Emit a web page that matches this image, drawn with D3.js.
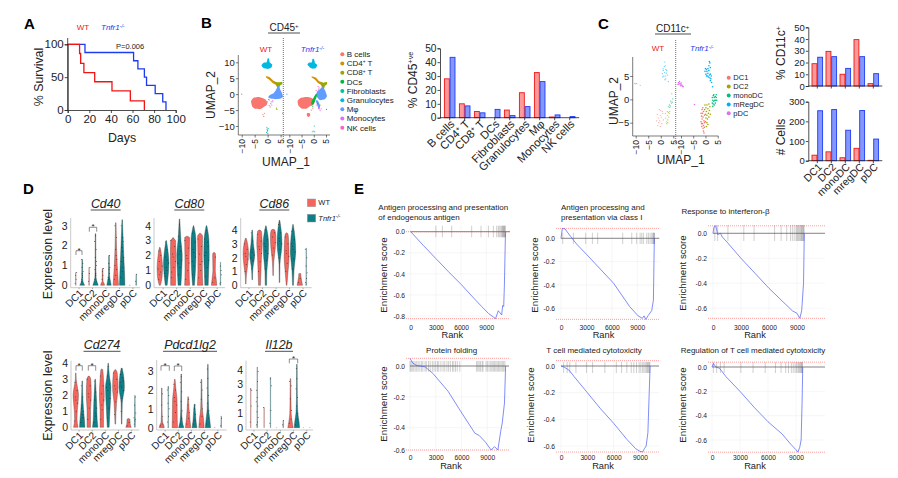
<!DOCTYPE html>
<html>
<head>
<meta charset="utf-8">
<script src="https://cdn.jsdelivr.net/npm/d3@7"></script>
<style>
  html, body { margin: 0; background: #fff; }
  text { font-family: "Liberation Sans", Arial, sans-serif; fill: #222; }
</style>
</head>
<body>
<div id="chart"></div>
<script>
// Panel A survival
const wtDays = [0, 11, 12, 15, 25, 41, 58, 71];
const wtSurvival = [100, 86, 71, 57, 43, 29, 14, 0];
const koDays = [0, 16, 61, 65, 71, 73, 81, 88, 91];
const koSurvival = [100, 87.5, 75, 62.5, 50, 37.5, 25, 12.5, 0];

// Panel B
const cd45Types = ["B cells", "CD4+ T", "CD8+ T", "DCs", "Fibroblasts", "Granulocytes", "Mφ", "Monocytes", "NK cells"];
const cd45Colors = ["#F8766D", "#D39200", "#93AA00", "#00BA38", "#00C19F", "#00B9E3", "#619CFF", "#DB72FB", "#FF61C3"];
const cd45Wt = [28, 10, 4.5, 0, 5.5, 18, 32.5, 0.5, 0];
const cd45Ko = [43.5, 8.5, 3.5, 6, 1.5, 8, 26, 2, 0.8];
// cluster outlines, [type index, outline in UMAP coordinates]
const umapWtBlobs = [
    [0, [[-6.4, -2.2], [-5.5, -1.2], [-3.5, -0.9], [-2, -1.2], [-0.8, -1.7], [-0.1, -2.6], [-0.5, -3.6], [-1.5, -4], [-2.8, -4.7], [-4.8, -4.6], [-6, -3.8]]],
    [1, [[-0.6, 5.6], [0.8, 5.3], [2, 4.4], [3.5, 3.6], [4.2, 2.6], [4.6, 1.5], [4, 1.7], [3, 3], [1.8, 3.6], [0.5, 4.6], [-0.6, 5.2]]],
    [2, [[2.6, 3.9], [4, 3.7], [5.6, 3.8], [5.6, 3.1], [4.8, 2.7], [4.4, 1.8], [3.8, 2.4], [3.2, 3.2]]],
    [5, [[-2.4, 9], [-1.6, 8.2], [0, 7.9], [1.4, 8.3], [1.8, 9.2], [0.8, 10], [0.5, 11.2], [0, 11.2], [-0.4, 10], [-1.4, 9.9]]],
    [6, [[4.2, 2.6], [4.8, 1.5], [5.5, 0.4], [5.9, -0.7], [5, -1.4], [3, -1.6], [1.2, -1.4], [0.2, -1], [1, -0.2], [2.4, 0.4], [3.2, 1.3]]]
];
const umapKoBlobs = [
    [0, [[-6.6, -2.1], [-5.4, -1.2], [-3.5, -0.9], [-1.8, -1], [-0.5, -1.4], [0.4, -2.4], [-0.2, -3.4], [-1.6, -3.8], [-3, -4.6], [-5, -4.5], [-6.3, -3.6]]],
    [1, [[-0.8, 5.6], [0.8, 5.2], [2, 4.2], [3.4, 3.6], [4, 2.6], [4.2, 1.6], [3.6, 1.8], [2.8, 3], [1.6, 3.6], [0.4, 4.6], [-0.8, 5.2]]],
    [2, [[2.6, 3.9], [4, 3.6], [5.4, 3.8], [5.4, 3.1], [4.6, 2.6], [4.2, 1.8], [3.6, 2.4], [3, 3.2]]],
    [5, [[-2.6, 9.3], [-1.6, 8.4], [-0.4, 8], [0.9, 8.2], [1.4, 9.2], [0.5, 9.8], [0.1, 11], [-0.5, 11.1], [-0.8, 10], [-1.8, 9.9]]],
    [6, [[3.6, 2.4], [4.6, 1.2], [5.4, -0.6], [4.5, -1.6], [2.6, -1.9], [1.6, -1.2], [0.9, -0.2], [1.6, 1], [2.6, 1.6]]],
    [3, [[-1, -2.6], [0, -1], [1, 0.2], [1.3, -0.6], [0.8, -1.6], [0, -3], [-0.8, -3.3]]],
    [6, [[0.8, -2], [1.6, -2], [2.6, -3.6], [2.2, -5], [1.6, -3.8]]],
    [0, [[-2.8, -6], [-1.8, -5.9], [-1.4, -6.6], [-2.2, -7.2], [-2.8, -6.8]]]
];
// scattered cells, [type index, x, y]
const umapWtSpecks = [[4, -0.2, -11], [4, -0.1, -11.8], [4, 0.2, -10.8], [4, -0.4, -12], [4, 0, -11.4], [4, 0.1, -12.4], [4, -0.3, -10.4],
    [0, -1.5, -7], [0, -1.8, -6.4], [0, -1.2, -6], [0, 1, -4], [0, 1.6, -3.4], [7, 0, -2.4], [7, -0.4, -3], [7, 0.6, -1.8], [2, 3.4, -4.4], [2, 3.6, -4.8], [6, 2, -2.4], [6, 1.2, -3],
    [8, 2, -2], [8, 1.4, -2.4], [3, 0.4, -1.6], [4, 5.8, -6], [1, 0.6, -3.6], [6, -10, 0]];
const umapKoSpecks = [[4, 0, -11.6], [4, -0.6, -11.8], [4, 0.4, -11.8], [4, 0.2, -10], [8, 1.8, 2.4], [8, 2, 1.6], [8, 1, 1.2], [7, 2.2, 2], [7, 1.6, 0.8],
    [8, 1.2, -3.4], [8, 2, -4.4], [7, 2.6, -5.2], [7, 3, -4.6], [0, -1, -5], [0, -0.4, -4.4], [2, 2.6, -3.4], [6, -11, 0], [4, 5.2, -4.8], [3, -0.4, -3.8], [3, 1.6, -2.8]];

// Panel C
const dcTypes = ["DC1", "DC2", "monoDC", "mRegDC", "pDC"];
const dcAxisLabels = ["DC1", "DC2", "monoDC", "mregDC", "pDC"];
const dcColors = ["#F8766D", "#A3A500", "#00BF7D", "#00B0F6", "#E76BF3"];
const cd11cWt = [19, 29.5, 10, 39.5, 2];
const cd11cKo = [24.5, 25, 15, 25, 10.5];
const cellsWt = [28, 45, 15, 63, 2];
const cellsKo = [254, 260, 155, 255, 110];
const dcWtPoints = [
    [[-1.4, -3.2], [-1, -4], [-0.8, -5], [-1.2, -5.6], [-0.4, -4.6], [-0.2, -3.4], [0.2, -3.8], [0.4, -5.2], [-0.6, -2.2], [0, -2.4], [0.8, -3], [1, -4.4], [-1.6, -4.6], [-0.2, -5.8], [0.6, -2.6]],
    [[1.8, -3], [2, -4], [2.2, -4.8], [2.6, -3.4], [2.8, -4.4], [3, -2.8], [3.2, -3.8], [2.4, -5.2], [2.8, -5], [3.4, -3], [2.6, -2.6], [3.6, -2.6]],
    [[3, -1.6], [3.4, -1.2], [3.8, -1.4], [4.2, -0.8], [4.6, -0.6], [4, -0.4], [3.6, -1.7], [4.8, 0.1], [4.4, 1.2]],
    [[0.6, 5.5], [1, 6.2], [1.4, 7], [1.6, 8], [1.8, 7.2], [2, 6.4], [2.2, 5.6], [1.8, 5], [1.2, 5], [0.8, 4.8], [1.5, 5.8], [0.9, 6.6], [2.4, 6.2], [2, 4.4], [2.6, 5.2], [1.6, 4.2], [3, 3.8]],
    [[-10.4, 3.4], [-10, 3.3], [-9.6, 3.4], [-8.2, 3]]
];
const dcKoPoints = [
    [[-1.8, -3], [-1.6, -3.6], [-1.4, -4.2], [-1.8, -4.8], [-1.2, -5.2], [-1.5, -5.8], [-1, -6.2], [-0.8, -6.8], [-1.2, -3], [-1, -3.8], [-0.6, -4.6], [-0.8, -5.6], [-0.4, -6], [-1.4, -2.2], [-0.8, -2.6], [-0.4, -3.4], [-1.6, -5.2], [-0.6, -7.2], [-1.1, -1.8], [-0.4, -5]],
    [[-0.2, -1.2], [0.2, -1.8], [0.6, -1.2], [1, -2], [0.4, -2.6], [0, -3.2], [0.6, -3.4], [1.2, -3], [1.6, -2.4], [0.2, -4], [0.8, -4.2], [1.4, -3.8], [0, -4.8], [0.6, -5], [1, -5.4], [0.4, -5.8], [1.8, -1.6], [2, -3.2], [-0.3, -2.2], [1.4, -1]],
    [[2.8, 0.4], [3.2, 0.8], [3.6, 0.4], [4, 0.6], [4.4, 0.4], [3, -0.2], [3.4, -0.4], [3.8, -0.2], [4.2, -0.2], [4.6, -0.2], [2.8, -0.8], [3.2, -1], [3.6, -1.2], [4, -0.8], [3, -1.5], [3.4, 1], [4.4, 1]],
    [[-0.2, 6], [0.2, 5.4], [0.4, 6.4], [0.8, 5], [0.6, 6], [1, 6.6], [1, 5.6], [1.4, 6.2], [1.2, 4.8], [1.6, 5.2], [1.8, 4.6], [2, 5.4], [1.4, 7.2], [1.8, 7.8], [2, 6.8], [1.6, 8.1], [2.2, 4.4], [2.4, 5], [2, 4], [0, 6.6], [0.4, 5], [2.9, 2.7], [2.5, 3.6]],
    [[-11, 3.6], [-10.6, 3.8], [-10.4, 3.4], [-10.8, 3.3], [-10, 3.1], [-9.6, 3], [-9.4, 2.8], [-9.9, 3.5], [-10.2, 2.9], [-9.1, 2.7], [-11.2, 3.2], [-4.5, -1.1]]
];

// Panel D violins. Each gene: WT, KO pairs for each DC group, each violin [level, relative width] steps
const cd40Violins = [
    [[0, .1], [.05, .05], [.65, .03]], [[0, .9], [.1, .5], [.3, .12], [1.3, .03]],
    [[0, .1], [.9, .03]], [[0, 1], [.15, .6], [.4, .15], [1, .07], [2.6, .03]],
    [[0, .7], [.1, .5], [.2, .1], [.85, .03]], [[0, .8], [.2, .5], [.5, .15], [1.5, .03]],
    [[0, 1], [.4, .8], [1, .5], [2, .2], [3.15, .02]], [[0, 1], [.5, .9], [1.5, .55], [2.5, .25], [3.3, .02]],
    [[0, .1], [.02, .02]], [[0, .1], [.55, .02]]
];
const cd80Violins = [
    [[0, .15], [.5, .8], [1.2, 1], [2, .6], [2.5, .1], [2.55, 0]], [[0, .3], [.8, .8], [1.5, 1], [2.2, .7], [3, .02]],
    [[0, .9], [1, .9], [2, 1], [3, .9], [3.1, .4], [3.2, 0]], [[0, .5], [1, .8], [2, 1], [3, .5], [4.45, .02]],
    [[0, .9], [1, .75], [2, .8], [3.2, .9], [3.3, 0]], [[0, .3], [1, .7], [2.2, .9], [3, .9], [4, .02]],
    [[0, 1], [1, .8], [2, .8], [3.3, .9], [3.5, .1]], [[0, .6], [1, .8], [2, 1], [3, .9], [4, .05]],
    [[0, 1], [.5, .7], [1, .4], [2, .5], [2.15, .4], [2.2, 0]], [[0, .15], [.1, .03], [1.55, .02]]
];
const cd86Violins = [
    [[.1, .02], [.7, .15], [1.5, .7], [2.3, 1], [3.2, .4], [3.4, .1]], [[.4, .02], [1.2, .2], [2.2, .9], [3, .4], [4, .02]],
    [[0, .3], [1, .5], [2, .7], [3, 1], [3.9, .7], [4, .05]], [[0, .2], [1, .3], [2, .8], [3, 1], [4.3, .02]],
    [[.7, .02], [1.7, .2], [2.7, .8], [3.6, 1], [4, .6], [4.05, 0]], [[.2, .02], [1.5, .1], [3, .9], [3.8, .7], [4.7, .05]],
    [[0, .05], [1, .5], [2, .9], [3, .8], [3.7, .5], [3.8, 0]], [[0, .1], [1, .3], [2.5, 1], [3.5, .7], [4.4, .02]],
    [[0, 1], [.3, .7], [.6, .4], [.85, .3], [.86, 0]], [[0, .15], [.3, .03], [2.7, .02]]
];
const cd274Violins = [
    [[0, .8], [.5, .4], [1, .5], [2, 1], [3, .1], [3.4, .02]], [[0, 1], [.5, .8], [1, .5], [2, .15], [2.9, .02]],
    [[0, .6], [1, .6], [2, .9], [3, .7], [3.2, .1]], [[0, 1], [.5, .7], [1.5, .5], [2.5, .2], [3, .03]],
    [[0, .6], [1, .6], [2, .9], [3, .6], [3.6, .3], [3.65, 0]], [[0, .3], [1, .6], [2.5, 1], [3.2, .4], [4, .02]],
    [[.2, .05], [1.5, .4], [2.5, 1], [3.4, .7], [3.6, .1]], [[.2, .02], [1.5, .15], [2.5, 1], [3.2, .7], [3.7, .1]],
    [[0, 1], [.2, .6], [.5, .5], [.55, .1]], [[0, .1], [.5, .1], [2, .02]]
];
const pdcd1lg2Violins = [
    [[0, .9], [.1, .8], [.3, .2], [1, .03], [2.1, .02]], [[0, .1], [.1, .03], [2.2, .02]],
    [[0, 1], [.5, .9], [1.5, .8], [2, .4], [2.56, .03]], [[0, 1], [.3, .4], [1, .1], [2.84, .02]],
    [[0, 1], [.5, .6], [1, .3], [1.64, .02]], [[0, .9], [.4, .5], [1, .2], [1.25, .02]],
    [[0, 1], [.5, .7], [1, .25], [2, .08], [2.56, .03]], [[0, 1], [.5, .6], [1, .2], [2, .05], [3.35, .02]],
    [[0, .05], [.02, .01]], [[0, .05], [.62, .02]]
];
const il12bViolins = [
    [[0, .03], [2.7, .02]], [[0, .08], [.3, .04], [4.2, .02]],
    [[0, .02], [1.4, .02]], [[0, .03], [3.5, .02]],
    [[0, .02], [.01, .01]], [[0, .05], [.5, .02]],
    [[0, 1], [.4, .6], [1, .2], [2, .1], [3.4, .03]], [[0, 1], [.4, .8], [1, .3], [2, .1], [4.4, .02]],
    [[0, .03], [.01, .01]], [[0, .03], [.01, .01]]
];
// expression of single cells drawn on the violins
const cd40Cells = [[.1, .3, .65, .5], [.2, .4, .7, .9, 1.1, 1.3, .6, .3, .5], [.2, .6, .9], [.3, .6, 1, 1.4, 1.8, 2.2, 2.5, .8, .5, 1.2], [.3, .5, .85, .7], [.3, .6, .9, 1.1, 1.5, .4, .8],
    [.3, .8, 1.3, 1.8, 2.4, 3, .5, 1, 1.5], [.4, .9, 1.4, 1.9, 2.4, 3, .7, 1.2, 1.7, 2.2], [], [.2, .55]];
const cd80Cells = [[.4, .9, 1.3, 1.6, 2, 2.3, .7, 1.1], [.6, 1, 1.5, 1.9, 2.4, 2.9, 1.2, .8, 1.7], [.5, 1.2, 1.6, 2.1, 2.6, 3, 1.9, .9], [.7, 1.2, 1.7, 2.1, 2.6, 3.3, 4.1, 1.5, 2.3],
    [.4, 1, 1.5, 2, 2.5, 3, 1.8], [.7, 1.3, 1.9, 2.4, 2.9, 3.5, 2.2, 1.6], [.5, 1, 1.6, 2.1, 2.6, 3.1, 1.4], [.6, 1.2, 1.7, 2.2, 2.6, 3.1, 3.7, 2, 2.9], [.2, .5, 1.9], [.1, .2, .7, 1.3, 1]];
const cd86Cells = [[1, 1.5, 1.9, 2.3, 2.6, 3, 2.1], [1.2, 1.8, 2.2, 2.6, 3.2, 3.8, 2.4, 2], [1, 1.7, 2.3, 2.8, 3.2, 3.7, 2.6], [1.2, 1.8, 2.3, 2.8, 3.3, 4, 2.5, 3],
    [2.2, 2.7, 3.1, 3.5, 3.8], [2, 2.6, 3, 3.4, 3.8, 4.4, 3.2], [1, 1.6, 2.1, 2.5, 3, 3.5, 2.3], [1.2, 1.9, 2.4, 2.8, 3.3, 3.9, 2.6, 3], [.2, .5], [.2, .5, .9, 1.4, 2, 2.6]];
const cd274Cells = [[.4, 1, 1.5, 1.9, 2.3, 2.8, 1.7], [.3, .6, 1, 1.4, 1.9, 2.6, .8, 1.2], [.5, 1.2, 1.7, 2.1, 2.6, 3, 1.9], [.3, .7, 1.2, 1.7, 2.2, 2.9, .9],
    [.5, 1.1, 1.7, 2.1, 2.6, 3.2, 1.4], [.6, 1.2, 1.8, 2.3, 2.7, 3.2, 3.8, 2.5], [.8, 1.6, 2.2, 2.6, 3, 3.4, 2.4], [1, 1.8, 2.3, 2.6, 2.9, 3.3, 2.5, 2.8, 3.1], [.1, .3], [.2, .5, .9, 1.4, 1.9, .6, .4]];
const pdcd1lg2Cells = [[.1, .2, .6, 1.2, 1.8], [.3, .6, 1, 1.3, 1.7, 2, 2.1], [.3, .8, 1.2, 1.6, 2, 2.3, 1.4], [.2, .5, .9, 1.4, 1.9, 2.4, 2.7], [.2, .5, .8, 1.2, 1.5], [.2, .4, .7, 1, 1.2],
    [.2, .6, 1, 1.5, 2, 2.4], [.2, .5, .9, 1.3, 1.7, 2.1, 2.6, 3.1], [], [.1, .5]];
const il12bCells = [[.4, 1.5, 2.6, 2.7], [.2, .4, .7, 1.1, 1.5, 1.8, 2.1, 2.6, 3.2, 3.9], [1.4], [.3, 1.2, 2.9, 3.4], [], [.2, .5], [.3, .6, 1.2, 2, 2.9, 3.2], [.2, .6, 1, 1.5, 2.1, 2.7, 3.4, 4.1], [], []];

// Panel E enrichment curves
const gsea1Rank = [0, 1500, 3000, 4500, 6000, 7500, 8450, 9250, 9840, 10100, 10430, 10830, 10950, 11070, 11150, 11270, 11300];
const gsea1Score = [0, -0.13, -0.255, -0.38, -0.5, -0.63, -0.71, -0.775, -0.81, -0.825, -0.75, -0.79, -0.7, -0.71, -0.52, -0.05, 0];
const gsea1Rug = [3000, 3770, 4880, 7260, 8370, 9250, 9840, 10240, 10430, 10550, 10720, 10830, 10920, 11000, 11070, 11130, 11200, 11260];
const gsea2Rank = [0, 160, 480, 1140, 1850, 3000, 6200, 8100, 9100, 9600, 9800, 10000, 10300, 10700, 10900, 11000, 11040];
const gsea2Score = [0, 0.085, 0.08, 0.015, -0.05, -0.137, -0.385, -0.585, -0.665, -0.686, -0.665, -0.695, -0.66, -0.62, -0.53, -0.04, 0];
const gsea2Rug = [200, 1460, 2910, 3700, 4330, 7280, 8350, 8930, 9330, 9530, 9720, 10120, 10310, 10510, 10710, 10830, 10910, 10990, 11020];
const gsea3Rank = [0, 100, 300, 500, 800, 1000, 1500, 3000, 6000, 8500, 9000, 9300, 9500, 9700, 9780];
const gsea3Score = [0, 0.05, 0.06, -0.01, 0, -0.03, -0.07, -0.2, -0.44, -0.62, -0.64, -0.68, -0.62, -0.4, 0];
const gsea3Rug = [200, 500, 1600, 3300, 4400, 6600, 7300, 7900, 8300, 8500, 8700, 8900, 9000, 9100, 9200, 9300, 9400, 9480, 9550, 9620, 9700, 9760];
const gsea4Rank = [0, 310, 780, 1750, 2700, 4450, 5800, 7560, 8060, 8790, 9450, 9840, 10230, 10550, 10740, 11000, 11130];
const gsea4Score = [0.05, 0.02, 0.003, -0.005, -0.05, -0.165, -0.285, -0.45, -0.47, -0.53, -0.6, -0.57, -0.6, -0.437, -0.37, -0.24, 0];
const gsea4Rug = [0, 120, 260, 430, 600, 780, 950, 1150, 1350, 1500, 1750, 1900, 2150, 2350, 2600, 2800, 3000, 3200, 3350, 3600, 3850, 4050, 4300, 4500, 4700, 4950, 5100, 5300, 5500, 5800, 7750, 7900, 8050, 8200, 8400, 8500, 8850, 9000, 9200, 9400, 9550, 9700, 9850, 10000, 10150, 10300, 10450, 10600, 10750, 10900, 11050];
const gsea5Rank = [0, 400, 900, 1500, 3000, 4500, 6000, 7500, 8500, 9000, 9300, 9500, 9700, 9900, 10050, 10150];
const gsea5Score = [0, -0.01, -0.03, -0.08, -0.2, -0.32, -0.43, -0.55, -0.62, -0.64, -0.645, -0.62, -0.6, -0.5, -0.2, 0];
const gsea5Rug = [300, 700, 1000, 1700, 2900, 3600, 5000, 6300, 6900, 7500, 8000, 8300, 8600, 8900, 9100, 9300, 9450, 9600, 9750, 9850, 9950, 10050, 10120];
const gsea6Rank = [0, 150, 400, 800, 1500, 3000, 4500, 6000, 7500, 8500, 9000, 9200, 9400, 9550, 9650, 9720];
const gsea6Score = [0, 0.03, 0, -0.01, -0.08, -0.2, -0.33, -0.45, -0.55, -0.64, -0.68, -0.7, -0.66, -0.6, -0.3, 0];
const gsea6Rug = [150, 500, 900, 1300, 3100, 4400, 5700, 6800, 7400, 7900, 8200, 8500, 8700, 8900, 9050, 9200, 9300, 9400, 9500, 9580, 9640, 9700];
const rankTicks = [0, 3000, 6000, 9000];

const RED = "#f01414", BLUE = "#1c3cf0";
const svg = d3.select("#chart").append("svg")
    .attr("width", 898).attr("height", 478)
    .style("display", "block");

function txt(x, y, s, size, opts = {}) {
    const t = svg.append("text")
        .attr("x", x).attr("y", y)
        .style("font-size", size + "px")
        .text(s);
    if (opts.anchor) t.attr("text-anchor", opts.anchor);
    if (opts.color) t.style("fill", opts.color);
    if (opts.bold) t.style("font-weight", "700");
    if (opts.italic) t.style("font-style", "italic");
    if (opts.rotate) t.attr("transform", `rotate(-90,${x},${y})`);
    return t;
}

function sup(t, base, power, size) {
    t.text(null);
    t.append("tspan").text(base);
    t.append("tspan").attr("dy", -size * 0.35).style("font-size", size * 0.6 + "px").text(power);
}

function koLabel(x, y, size, color = BLUE) {
    const t = txt(x, y, "", size, { italic: true, color: color });
    t.append("tspan").text("Tnfr1");
    t.append("tspan").attr("dy", -size * 0.3).style("font-size", size * 0.65 + "px").text("-/-");
}

function underline(y, x1, x2) {
    svg.append("line").attr("x1", x1).attr("x2", x2).attr("y1", y).attr("y2", y)
        .attr("stroke", "#222").attr("stroke-width", 0.8);
}

function styleAxis(g, size, width = 0.8) {
    g.attr("font-family", null);
    g.selectAll("path,line").attr("stroke", "#222").attr("stroke-width", width);
    g.selectAll("text").style("font-size", size + "px");
}

// Panel A
function drawSurvival() {
    const x = d3.scaleLinear().domain([0, 100]).range([67.7, 175.7]);
    const y = d3.scaleLinear().domain([0, 100]).range([110, 44.3]);
    const line = d3.line().x(d => x(d[0])).y(d => y(d[1])).curve(d3.curveStepAfter);
    svg.append("path").datum(d3.zip(koDays, koSurvival)).attr("d", line)
        .attr("fill", "none").attr("stroke", BLUE).attr("stroke-width", 1.3);
    svg.append("path").datum(d3.zip(wtDays, wtSurvival)).attr("d", line)
        .attr("fill", "none").attr("stroke", RED).attr("stroke-width", 1.3);
    svg.append("g").attr("transform", "translate(0,110)")
        .call(d3.axisBottom(x).tickValues([0, 20, 40, 60, 80, 100]).tickSize(3).tickPadding(2))
        .call(styleAxis, 11.5);
    svg.append("g").attr("transform", "translate(67.7,0)")
        .call(d3.axisLeft(y).tickValues([0, 50, 100]).tickSize(3).tickPadding(1))
        .call(styleAxis, 11.5);
    svg.append("line").attr("x1", 67.7).attr("x2", 67.7).attr("y1", 38).attr("y2", 110).attr("stroke", "#222").attr("stroke-width", 0.8);
    txt(43, 77, "% Survival", 12.4, { anchor: "middle", rotate: true });
    txt(122, 142, "Days", 12.4, { anchor: "middle" });
    txt(83, 30, "WT", 8, { anchor: "middle", color: RED });
    koLabel(101, 30, 8);
    txt(116, 49, "P=0.006", 7.5);
}

function drawUmap(xScale, yScale, blobs, specks, colors) {
    const line = d3.line().x(d => xScale(d[0])).y(d => yScale(d[1])).curve(d3.curveCardinalClosed.tension(0.5));
    svg.append("g").selectAll("path").data(blobs).enter().append("path")
        .attr("d", d => line(d[1]))
        .attr("fill", d => colors[d[0]]);
    svg.append("g").selectAll("circle").data(specks).enter().append("circle")
        .attr("cx", d => xScale(d[1])).attr("cy", d => yScale(d[2])).attr("r", 0.6)
        .attr("fill", d => colors[d[0]]);
}

function rotatedBottom(g, size) {
    g.selectAll("text").attr("transform", "rotate(-90)").attr("text-anchor", "end")
        .attr("x", -4).attr("y", 0).attr("dy", "0.35em").style("font-size", size + "px");
}

// Panel B
function drawUmapB() {
    const xWt = d3.scaleLinear().domain([-10, 5]).range([241.7, 280.6]);
    const xKo = d3.scaleLinear().domain([-10, 5]).range([289.3, 326]);
    const y = d3.scaleLinear().domain([-10, 10]).range([126, 62.3]);
    drawUmap(xWt, y, umapWtBlobs, umapWtSpecks, cd45Colors);
    drawUmap(xKo, y, umapKoBlobs, umapKoSpecks, cd45Colors);
    const gy = svg.append("g").attr("transform", "translate(238.3,0)")
        .call(d3.axisLeft(y).tickValues([-10, -5, 0, 5, 10]).tickSize(2.5).tickPadding(1))
        .call(styleAxis, 9.5, 0.6);
    gy.select("path").attr("d", "M0,55V135");
    [[xWt, 238.3, 283.3], [xKo, 283.3, 330]].forEach(([sc, a, b]) => {
        const g = svg.append("g").attr("transform", "translate(0,135)")
            .call(d3.axisBottom(sc).tickValues([-10, -5, 0, 5]).tickSize(2.5))
            .call(styleAxis, 8.5, 0.6);
        g.select("path").attr("d", `M${a},0H${b}`);
        rotatedBottom(g, 8.5);
    });
    svg.append("line").attr("x1", 283.3).attr("x2", 283.3).attr("y1", 38).attr("y2", 141)
        .attr("stroke", "#333").attr("stroke-width", 0.7).attr("stroke-dasharray", "1,1");
    txt(215, 95, "UMAP_2", 12, { anchor: "middle", rotate: true });
    txt(286, 166, "UMAP_1", 12, { anchor: "middle" });
    sup(txt(284, 31, "", 10, { anchor: "middle" }), "CD45", "+", 10);
    underline(33, 268, 300);
    txt(266, 52, "WT", 8, { anchor: "middle", color: RED });
    koLabel(300.7, 52, 8);
    const legY = d3.scalePoint().domain(cd45Types).range([54.3, 127.7]);
    cd45Types.forEach((name, i) => {
        svg.append("circle").attr("cx", 342.3).attr("cy", legY(name)).attr("r", 2).attr("fill", cd45Colors[i]);
        const t = txt(346.7, legY(name) + 2.8, name, 8);
        if (name.includes("+")) {
            sup(t, name.split("+")[0], "+", 8);
            t.append("tspan").attr("dy", 8 * 0.35).text(name.split("+")[1]);
        }
    });
}

function drawBars(cfg) {
    const x = d3.scaleBand().domain(cfg.labels).range(cfg.xRange);
    const y = d3.scaleLinear().domain(cfg.yDomain).range(cfg.yRange);
    const sub = d3.scaleBand().domain([0, 1]).range([-cfg.barW, cfg.barW]);
    [[cfg.wt, "#ff9a9a", RED, 0], [cfg.ko, "#8696ff", BLUE, 1]].forEach(([vals, fill, stroke, k]) => {
        svg.append("g").selectAll("rect").data(vals).enter().append("rect")
            .attr("x", (d, i) => x(cfg.labels[i]) + x.bandwidth() / 2 + sub(k) + 0.4)
            .attr("width", sub.bandwidth() - 0.8)
            .attr("y", d => y(d))
            .attr("height", d => y(0) - y(d))
            .attr("fill", fill).attr("stroke", stroke).attr("stroke-width", 0.9);
    });
    svg.append("g").attr("transform", `translate(${cfg.xRange[0] - cfg.gap},0)`)
        .call(d3.axisLeft(y).tickValues(cfg.yTicks).tickSize(2.5).tickPadding(1))
        .call(styleAxis, cfg.tickSize);
    const gx = svg.append("g").attr("transform", `translate(0,${cfg.yRange[0]})`)
        .call(d3.axisBottom(x).tickSize(2.5))
        .call(styleAxis, cfg.labelSize);
    gx.select("path").attr("d", `M${cfg.xRange[0] - cfg.gap},0H${cfg.xRange[1] + 2}`);
    if (cfg.hideLabels) gx.selectAll("text").remove();
    else gx.selectAll("text").attr("transform", "rotate(-45)").attr("text-anchor", "end")
        .attr("x", -1).attr("y", 5).attr("dy", "0.35em");
}

// Panel C scatter
function drawUmapC() {
    const xWt = d3.scaleLinear().domain([-10, 5]).range([635.7, 673.3]);
    const xKo = d3.scaleLinear().domain([-10, 5]).range([681, 717.7]);
    const y = d3.scaleLinear().domain([-5, 5]).range([122.7, 76]);
    [[xWt, dcWtPoints, 0.7], [xKo, dcKoPoints, 1]].forEach(([sc, pts, op]) => {
        pts.forEach((list, i) => {
            svg.append("g").selectAll("circle").data(list).enter().append("circle")
                .attr("cx", d => sc(d[0])).attr("cy", d => y(d[1]))
                .attr("r", sc === xKo ? 0.8 : 0.6)
                .attr("fill", dcColors[i]).attr("opacity", op);
        });
    });
    const gy = svg.append("g").attr("transform", "translate(632.7,0)")
        .call(d3.axisLeft(y).tickValues([-5, 0, 5]).tickSize(2.5).tickPadding(1))
        .call(styleAxis, 9.5, 0.6);
    gy.select("path").attr("d", "M0,57V136");
    [[xWt, 632.7, 675.7], [xKo, 675.7, 718.3]].forEach(([sc, a, b]) => {
        const g = svg.append("g").attr("transform", "translate(0,136)")
            .call(d3.axisBottom(sc).tickValues([-10, -5, 0, 5]).tickSize(2.5))
            .call(styleAxis, 8.5, 0.6);
        g.select("path").attr("d", `M${a},0H${b}`);
        rotatedBottom(g, 8.5);
    });
    svg.append("line").attr("x1", 675.7).attr("x2", 675.7).attr("y1", 40).attr("y2", 143)
        .attr("stroke", "#333").attr("stroke-width", 0.7).attr("stroke-dasharray", "1,1");
    txt(618, 101, "UMAP_2", 12, { anchor: "middle", rotate: true });
    txt(680.7, 164, "UMAP_1", 12, { anchor: "middle" });
    sup(txt(672.7, 32, "", 10, { anchor: "middle" }), "CD11c", "+", 10);
    underline(34, 655, 691);
    txt(658, 51, "WT", 8, { anchor: "middle", color: RED });
    koLabel(690, 51, 8);
    const legY = d3.scalePoint().domain(dcTypes).range([77.7, 113.3]);
    dcTypes.forEach((name, i) => {
        svg.append("circle").attr("cx", 728.7).attr("cy", legY(name)).attr("r", 2).attr("fill", dcColors[i]);
        txt(733.3, legY(name) + 2.7, name, 7.5);
    });
}

const jitter = [-0.6, 0.3, 0.9, -0.2, 0.6, -0.9, 0];

function drawViolins(cfg) {
    const y = d3.scaleLinear().domain([0, cfg.yTicks[cfg.yTicks.length - 1]]).range(cfg.yRange);
    const group = d3.scaleLinear().domain([0, 1, 2, 3, 4]).range(cfg.centers);
    const w = d3.scaleLinear().domain([0, 1]).range([0.2, 2.7]);
    const cx = i => group(Math.floor(i / 2)) + (i % 2 ? 3.2 : -3.2);
    const area = (d, i) => d3.area()
        .y(p => y(p[0]))
        .x0(p => cx(i) - w(p[1]))
        .x1(p => cx(i) + w(p[1]))
        .curve(d3.curveMonotoneY)(d);
    svg.append("g").selectAll("path").data(cfg.violins).enter().append("path")
        .attr("d", area)
        .attr("fill", (d, i) => i % 2 ? "#0e7f86" : "#f4665d")
        .attr("stroke", d => d3.max(d, p => p[1]) > 0.15 ? "#3a3a3a" : "#888")
        .attr("stroke-width", 0.35);
    cfg.cells.forEach((levels, i) => {
        const prof = cfg.violins[i];
        const width = d3.scaleLinear().domain(prof.map(p => p[0])).range(prof.map(p => w(p[1]))).clamp(true);
        svg.append("g").selectAll("circle").data(levels).enter().append("circle")
            .attr("cx", (d, k) => cx(i) + jitter[k % jitter.length] * Math.max(width(d), 1))
            .attr("cy", d => y(d))
            .attr("r", 0.5)
            .attr("fill", "#222").attr("opacity", 0.75);
    });
    svg.append("g").attr("transform", `translate(${cfg.axisX},0)`)
        .call(d3.axisLeft(y).tickValues(cfg.yTicks).tickFormat(d3.format("d")).tickSize(0).tickPadding(3))
        .call(styleAxis, 10.5, 0.8)
        .call(g => g.select("path").attr("d", `M0,${cfg.top}V${cfg.axisY}`).attr("stroke", "#bbb"));
    const step = group(1) - group(0);
    const band = d3.scaleBand().domain(dcAxisLabels).range([group(0) - step / 2, group(4) + step / 2]);
    const gx = svg.append("g").attr("transform", `translate(0,${cfg.axisY})`)
        .call(d3.axisBottom(band).tickSize(1.5))
        .call(styleAxis, 10, 0.8);
    gx.select("path").attr("d", `M${cfg.axisX},0H${cfg.xEnd}`).attr("stroke", "#bbb");
    gx.selectAll("line").attr("stroke", "#999");
    gx.selectAll("text").attr("transform", "rotate(-45)").attr("text-anchor", "end")
        .attr("x", -1).attr("y", 4).attr("dy", "0.35em");
    txt(cfg.titleX, cfg.titleY, cfg.title, 12.4, { anchor: "middle", italic: true });
    underline(cfg.titleY + 2, cfg.titleX - cfg.titleHalf, cfg.titleX + cfg.titleHalf);
    (cfg.brackets || []).forEach(b => {
        svg.append("path").attr("d", `M${b[0]},${b[3]}V${b[2]}H${b[1]}V${b[3]}`)
            .attr("fill", "none").attr("stroke", "#444").attr("stroke-width", 0.6);
        txt((b[0] + b[1]) / 2, b[2] + 2, "*", 8, { anchor: "middle" });
    });
}

function drawGsea(cfg) {
    const x = d3.scaleLinear().domain([0, 9000]).range(cfg.xRange);
    const y = d3.scaleLinear().domain(cfg.yDomain).range(cfg.yRange);
    const g = svg.append("g");
    // faint grid
    g.selectAll(".gx").data(rankTicks).enter().append("line")
        .attr("x1", d => x(d)).attr("x2", d => x(d)).attr("y1", cfg.top).attr("y2", cfg.bottom)
        .attr("stroke", "#ececec").attr("stroke-width", 0.5);
    g.selectAll(".gy").data(cfg.yTicks).enter().append("line")
        .attr("x1", cfg.left).attr("x2", cfg.right).attr("y1", d => y(d)).attr("y2", d => y(d))
        .attr("stroke", "#ececec").attr("stroke-width", 0.5);
    g.selectAll(".rug").data(cfg.rug).enter().append("line")
        .attr("x1", d => x(d)).attr("x2", d => x(d)).attr("y1", cfg.rugTop).attr("y2", cfg.rugBottom)
        .attr("stroke", "#000").attr("stroke-opacity", 0.28).attr("stroke-width", 0.7);
    g.append("line").attr("x1", x(0)).attr("x2", cfg.right).attr("y1", y(0)).attr("y2", y(0))
        .attr("stroke", "#555").attr("stroke-width", 0.7);
    cfg.extremes.forEach(v => {
        g.append("line").attr("x1", cfg.left).attr("x2", cfg.right).attr("y1", y(v)).attr("y2", y(v))
            .attr("stroke", "#ff5a5a").attr("stroke-width", 0.6).attr("stroke-dasharray", "1,1");
    });
    g.append("path").datum(d3.zip(cfg.ranks, cfg.scores))
        .attr("d", d3.line().x(d => x(d[0])).y(d => y(d[1])))
        .attr("fill", "none").attr("stroke", "#4a5cf5").attr("stroke-width", 0.7);
    const gx = svg.append("g").attr("transform", `translate(0,${cfg.bottom})`)
        .call(d3.axisBottom(x).tickValues(rankTicks).tickSize(0).tickPadding(cfg.xPad).tickFormat(d3.format("d")))
        .call(styleAxis, 6.7);
    gx.select("path").remove();
    const gy = svg.append("g").attr("transform", `translate(${cfg.left},0)`)
        .call(d3.axisLeft(y).tickValues(cfg.yTicks).tickSize(0).tickPadding(1).tickFormat(d => d3.format(".1f")(d).replace("−", "-")))
        .call(styleAxis, 6.7);
    gy.select("path").remove();
    txt(cfg.labelX, cfg.labelY, "Enrichment score", 9.7, { anchor: "middle", rotate: true });
    txt(cfg.rankX, cfg.rankY, "Rank", 9.3, { anchor: "middle" });
    cfg.title.forEach((line, i) => {
        txt(cfg.titleX, cfg.titleY + i * 10, line, 8, { anchor: cfg.titleAnchor || "start" });
    });
}

drawSurvival();
drawUmapB();
drawBars({
    labels: cd45Types.map(d => d.replace("+", "\u207A")), wt: cd45Wt, ko: cd45Ko, xRange: [442.2, 577.2], yDomain: [0, 50], yRange: [117.7, 48.3],
    yTicks: [0, 10, 20, 30, 40, 50], barW: 5.7, gap: 2.2, tickSize: 10.2, labelSize: 11.3
});
sup(txt(417, 80, "", 12, { anchor: "middle", rotate: true }), "% CD45", "+ve", 12);

drawUmapC();
drawBars({
    labels: dcAxisLabels, wt: cd11cWt, ko: cd11cKo, xRange: [810.3, 880.3], yDomain: [0, 50], yRange: [86, 27.3],
    yTicks: [0, 10, 20, 30, 40, 50], barW: 5.7, gap: 2, tickSize: 9.5, labelSize: 10, hideLabels: true
});
drawBars({
    labels: dcAxisLabels, wt: cellsWt, ko: cellsKo, xRange: [810.3, 880.3], yDomain: [0, 300], yRange: [160.7, 101.7],
    yTicks: [0, 100, 200, 300], barW: 5.7, gap: 2, tickSize: 9.5, labelSize: 10.5
});
sup(txt(785, 53, "", 12, { anchor: "middle", rotate: true }), "% CD11c", "+", 12);
txt(785, 137, "# Cells", 12, { anchor: "middle", rotate: true });

// Panel D
drawViolins({ title: "Cd40", titleX: 105.7, titleY: 208, titleHalf: 15, violins: cd40Violins, cells: cd40Cells, yTicks: [0, 1, 2, 3], yRange: [285.3, 225.7], centers: [79, 92.3, 105.8, 119, 133], axisX: 70.7, axisY: 287.7, top: 218, xEnd: 140,
    brackets: [[76, 82, 250.7, 255], [89.3, 96.7, 227.3, 231.7]] });
drawViolins({ title: "Cd80", titleX: 189.3, titleY: 208, titleHalf: 15, violins: cd80Violins, cells: cd80Cells, yTicks: [0, 1, 2, 3, 4], yRange: [285.3, 225.7], centers: [163, 176.3, 190.3, 203.3, 217.3], axisX: 154, axisY: 287.7, top: 218, xEnd: 225 });
drawViolins({ title: "Cd86", titleX: 274.3, titleY: 208, titleHalf: 15, violins: cd86Violins, cells: cd86Cells, yTicks: [0, 1, 2, 3, 4], yRange: [285.3, 230], centers: [249, 262.7, 276.3, 289.8, 303], axisX: 240.7, axisY: 287.7, top: 218, xEnd: 311.7 });
drawViolins({ title: "Cd274", titleX: 102, titleY: 349.3, titleHalf: 18.5, violins: cd274Violins, cells: cd274Cells, yTicks: [0, 1, 2, 3, 4], yRange: [427.3, 363.3], centers: [79, 92, 105, 118.5, 131.7], axisX: 71, axisY: 430, top: 360.7, xEnd: 139.3,
    brackets: [[76, 82.3, 365.7, 370.7], [88.3, 95.7, 365.7, 370.7]] });
drawViolins({ title: "Pdcd1lg2", titleX: 190, titleY: 349.3, titleHalf: 27, violins: pdcd1lg2Violins, cells: pdcd1lg2Cells, yTicks: [0, 1, 2, 3], yRange: [427.7, 371], centers: [165, 178, 191.3, 204.7, 218], axisX: 156.7, axisY: 430, top: 360, xEnd: 226.7,
    brackets: [[161, 169.3, 365.7, 370.7], [174.3, 181.7, 366, 371]] });
drawViolins({ title: "Il12b", titleX: 279, titleY: 349.3, titleHalf: 14, violins: il12bViolins, cells: il12bCells, yTicks: [0, 1, 2, 3, 4], yRange: [427.7, 370], centers: [254, 267.3, 280, 293.7, 306.7], axisX: 246, axisY: 430, top: 360.7, xEnd: 313,
    brackets: [[289.3, 297.7, 359, 363.3]] });
txt(51.5, 254, "Expression level", 12.4, { anchor: "middle", rotate: true });
txt(51.7, 395.7, "Expression level", 12.4, { anchor: "middle", rotate: true });
svg.append("rect").attr("x", 307.3).attr("y", 199).attr("width", 8.4).attr("height", 7.7).attr("fill", "#f4665d").attr("stroke", "#999").attr("stroke-width", 0.5);
svg.append("rect").attr("x", 307.3).attr("y", 214.3).attr("width", 8.4).attr("height", 7.7).attr("fill", "#0e7f86").attr("stroke", "#999").attr("stroke-width", 0.5);
txt(318.3, 205.3, "WT", 7.5);
koLabel(318.3, 220.7, 7.5, "#222");

// Panel E
drawGsea({ title: ["Antigen processing and presentation", "of endogenous antigen"], titleX: 378.3, titleY: 210, ranks: gsea1Rank, scores: gsea1Score, rug: gsea1Rug,
    xRange: [410.7, 486.3], yDomain: [0, -0.8], yRange: [231.7, 316], yTicks: [0, -0.2, -0.4, -0.6, -0.8], extremes: [0, -0.825],
    left: 406, right: 510, top: 225, bottom: 322, xPad: 3, rugTop: 225.7, rugBottom: 237.3, labelX: 386.7, labelY: 275, rankX: 452.3, rankY: 338 });
drawGsea({ title: ["Antigen processing and", "presentation via class I"], titleX: 561, titleY: 210, ranks: gsea2Rank, scores: gsea2Score, rug: gsea2Rug,
    xRange: [561, 637.3], yDomain: [0, -0.6], yRange: [238.3, 308.3], yTicks: [0, -0.2, -0.4, -0.6], extremes: [0.085, -0.695],
    left: 556, right: 659.3, top: 225, bottom: 322, xPad: 3, rugTop: 232.7, rugBottom: 244, labelX: 538, labelY: 275, rankX: 603.5, rankY: 338 });
drawGsea({ title: ["Response to interferon-β"], titleX: 725.5, titleY: 214, titleAnchor: "middle", ranks: gsea3Rank, scores: gsea3Score, rug: gsea3Rug,
    xRange: [713, 797], yDomain: [0, -0.6], yRange: [233.3, 308.3], yTicks: [0, -0.2, -0.4, -0.6], extremes: [0.06, -0.68],
    left: 708, right: 825, top: 225, bottom: 322, xPad: 3, rugTop: 225, rugBottom: 241, labelX: 686, labelY: 273, rankX: 755, rankY: 338 });
drawGsea({ title: ["Protein folding"], titleX: 451.7, titleY: 352.7, titleAnchor: "middle", ranks: gsea4Rank, scores: gsea4Score, rug: gsea4Rug,
    xRange: [410, 487.3], yDomain: [0, -0.4, -0.6], yRange: [366, 427.7, 450], yTicks: [0, -0.2, -0.4, -0.6], extremes: [0.05, -0.6],
    left: 406, right: 509, top: 358, bottom: 452, xPad: 3, rugTop: 361, rugBottom: 371.7, labelX: 386.7, labelY: 404, rankX: 451, rankY: 469.3 });
drawGsea({ title: ["T cell mediated cytotoxicity"], titleX: 594, titleY: 352.7, titleAnchor: "middle", ranks: gsea5Rank, scores: gsea5Score, rug: gsea5Rug,
    xRange: [561, 640], yDomain: [0, -0.6], yRange: [366, 446], yTicks: [0, -0.2, -0.4, -0.6], extremes: [0.04, -0.645],
    left: 556, right: 659, top: 358, bottom: 452, xPad: 3, rugTop: 362, rugBottom: 373, labelX: 534, labelY: 405, rankX: 603, rankY: 469.3 });
drawGsea({ title: ["Regulation of T cell mediated cytotoxicity"], titleX: 753, titleY: 352.7, titleAnchor: "middle", ranks: gsea6Rank, scores: gsea6Score, rug: gsea6Rug,
    xRange: [712, 796], yDomain: [0, -0.6], yRange: [367, 440], yTicks: [0, -0.2, -0.4, -0.6], extremes: [0.04, -0.7],
    left: 708, right: 825, top: 358, bottom: 452, xPad: 3, rugTop: 362, rugBottom: 373, labelX: 686, labelY: 405, rankX: 755, rankY: 469.3 });

// panel letters
[["A", 24, 29], ["B", 201, 28], ["C", 598, 29], ["D", 23, 194], ["E", 354, 194]].forEach(d => {
    txt(d[1], d[2], d[0], 15, { bold: true }).style("fill", "#000");
});
</script>
</body>
</html>
